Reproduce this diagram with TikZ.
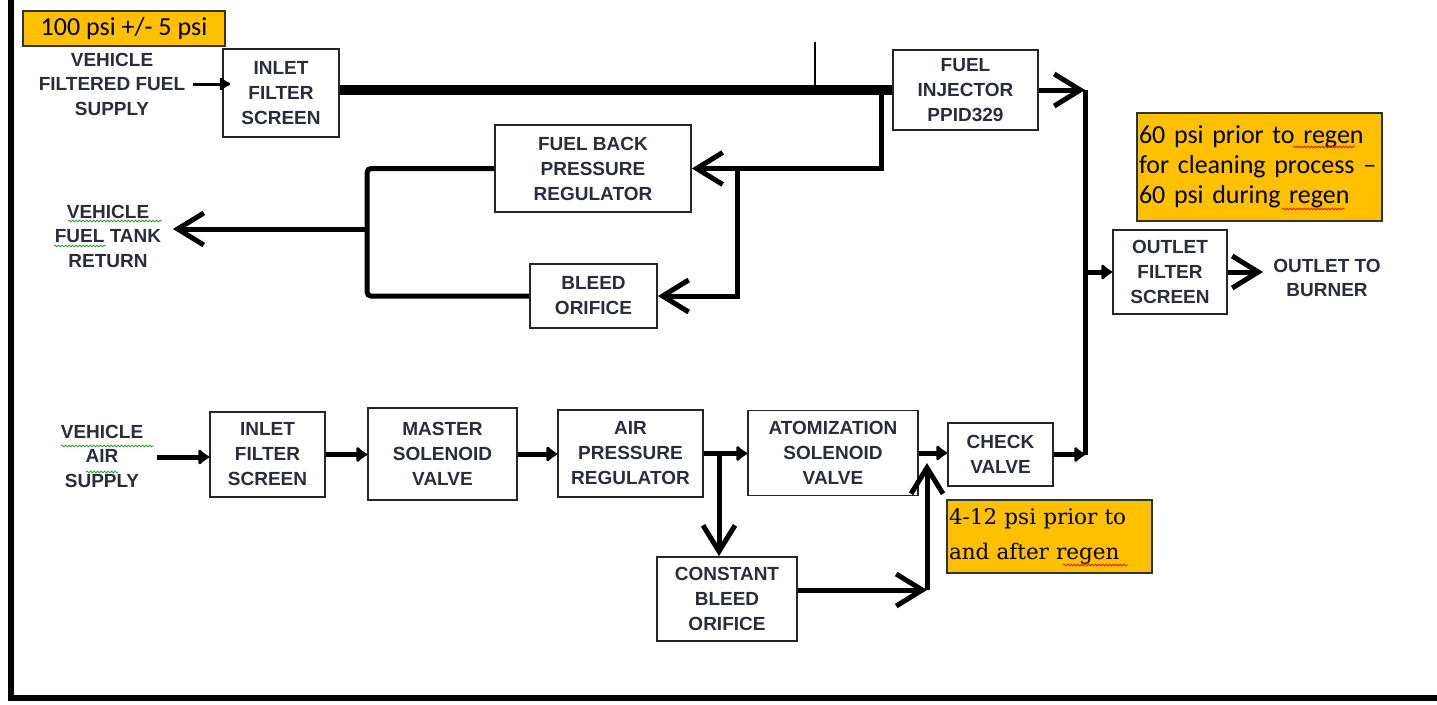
\documentclass[tikz,border=0pt]{standalone}
\usepackage{fontspec}
\setmainfont{Liberation Sans}
\newfontfamily\calib{Carlito}
\newfontfamily\cserif{DejaVu Serif}
\usetikzlibrary{arrows.meta,decorations.pathmorphing}
\definecolor{notebg}{HTML}{FFC000}
\definecolor{txt}{HTML}{2A2D3A}
\definecolor{spellgreen}{HTML}{3A9A3A}
\definecolor{spellred}{HTML}{E02020}
\begin{document}
\begin{tikzpicture}[x=1pt,y=-1pt,
  box/.style={draw=black!85,line width=1.8pt,fill=white,align=center,
    font=\fontsize{19}{25}\selectfont\bfseries,text=txt,inner sep=0pt},
  lbl/.style={align=center,font=\fontsize{19}{24.5}\selectfont\bfseries,text=txt,inner sep=0pt},
  note/.style={draw=black!80,line width=1.5pt,fill=notebg,inner sep=0pt},
  pipe/.style={line width=5pt},
  chev/.style={-{Straight Barb[length=26pt,width=32pt,line width=5pt]}},
  dot/.style={-{Latex[round,length=12pt,width=19pt]}},
  spell/.style={decorate,decoration={snake,amplitude=0.9pt,segment length=3.5pt},line width=0.8pt}
]
\useasboundingbox (0,0) rectangle (1437,704);
\fill[white] (0,0) rectangle (1437,704);

% frame
\draw[line width=6pt] (11,0) -- (11,698) -- (1437,698);

% notes
\node[note,minimum width=202pt,minimum height=35pt,font=\calib\fontsize{26}{30}\selectfont] (n1) at (124,28.5) {100 psi +/- 5 psi};
\node[note,minimum width=245pt,minimum height=108pt,text width=241pt,inner xsep=2pt,align=left,
  font=\calib\fontsize{26}{30}\selectfont] (n2) at (1259.5,167) {60 psi prior to regen\\for cleaning process –\\60 psi during regen};
\node[note,minimum width=205pt,minimum height=73pt,text width=201pt,inner xsep=2pt,align=left,
  font=\cserif\fontsize{21.5}{35}\selectfont] (n3) at (1049.5,536.5) {4-12 psi prior to\\and after regen};

% fuel boxes
\node[box,minimum width=116pt,minimum height=88pt] (in1) at (281,93) {INLET\\FILTER\\SCREEN};
\node[box,minimum width=145pt,minimum height=80pt] (inj) at (965.5,90) {FUEL\\INJECTOR\\PPID329};
\node[box,minimum width=196pt,minimum height=87pt] (fbpr) at (593,168.5) {FUEL BACK\\PRESSURE\\REGULATOR};
\node[box,minimum width=127pt,minimum height=64pt] (bo) at (593.5,296) {BLEED\\ORIFICE};
\node[box,minimum width=114pt,minimum height=84pt] (ofs) at (1170,272) {OUTLET\\FILTER\\SCREEN};

% air boxes
\node[box,minimum width=115pt,minimum height=85pt] (in2) at (267.5,454.5) {INLET\\FILTER\\SCREEN};
\node[box,minimum width=149pt,minimum height=92pt] (msv) at (442.5,454) {MASTER\\SOLENOID\\VALVE};
\node[box,minimum width=145pt,minimum height=87pt] (apr) at (630.5,453.5) {AIR\\PRESSURE\\REGULATOR};
\node[box,minimum width=170pt,minimum height=85pt] (asv) at (833,453) {ATOMIZATION\\SOLENOID\\VALVE};
\node[box,minimum width=105pt,minimum height=63pt] (cv) at (1000.5,454.5) {CHECK\\VALVE};
\node[box,minimum width=140pt,minimum height=84pt] (cbo) at (727,599) {CONSTANT\\BLEED\\ORIFICE};

% free labels
\node[lbl] (sup) at (112,84) {VEHICLE\\FILTERED FUEL\\SUPPLY};
\node[lbl] (ret) at (108,236) {VEHICLE\\FUEL TANK\\RETURN};
\node[lbl] (air) at (102,456) {VEHICLE\\AIR\\SUPPLY};
\node[lbl] (burn) at (1327,278) {OUTLET TO\\BURNER};

% coordinates
\coordinate (tick) at (815,42);
\coordinate (j1) at (881,90);
\coordinate (j2) at (737,168.5);
\coordinate (j3) at (367,229);
\coordinate (retin) at (173,229);
\coordinate (r1) at (1085,90);
\coordinate (r2) at (1085,454.5);
\coordinate (btip) at (1263,272);
\coordinate (ain) at (157,457);
\coordinate (b1) at (719,453.5);
\coordinate (b2) at (927,590);
\coordinate (b3) at (927,463);

% fuel connectors
\draw[line width=3pt,-{Latex[round,length=12pt,width=16pt]}] ([xshift=8pt]sup.east) -- ([xshift=8pt]sup.east -| in1.west);
\draw[line width=10pt] (in1.east |- inj.west) -- (inj.west);
\draw[line width=1.2pt] (tick) -- (tick |- inj.west);
\draw[pipe,chev] (j1) |- (fbpr.east);
\draw[pipe,chev] (j2) |- (bo.east);
\draw[pipe,rounded corners=4pt] (fbpr.west) -| (j3) |- (bo.west);
\draw[pipe,chev] (j3) -- (retin);
\draw[pipe,chev] (inj.east) -- (r1);
\draw[pipe] (r1) -- (r2);
\draw[pipe,dot] (r1 |- ofs.west) -- (ofs.west);
\draw[pipe,chev] (ofs.east) -- (btip);
\draw[pipe,dot] (cv.east) -- (r2);

% air connectors
\draw[pipe,dot] (ain) -- (ain -| in2.west);
\draw[pipe,dot] (in2.east) -- (in2.east -| msv.west);
\draw[pipe,dot] (msv.east) -- (msv.east -| apr.west);
\draw[pipe,dot] (apr.east) -- (apr.east -| asv.west);
\draw[pipe,chev] (b1) -- (b1 |- cbo.north);
\draw[pipe,dot] (asv.east) -- (asv.east -| cv.west);
\draw[pipe,chev] (cbo.east |- b2) -- (b2);
\draw[pipe,chev] (b2) -- (b3);

% spell-check squiggles
\draw[spell,spellgreen] (68,221) -- (162,221);
\draw[spell,spellgreen] (54,246) -- (106,246);
\draw[spell,spellgreen] (61,446) -- (154,446);
\draw[spell,spellgreen] (86,472) -- (118,472);
\draw[spell,spellred] (1293,147) -- (1355,147);
\draw[spell,spellred] (1282,209) -- (1345,209);
\draw[spell,spellred] (1063,565) -- (1128,565);
\end{tikzpicture}
\end{document}
